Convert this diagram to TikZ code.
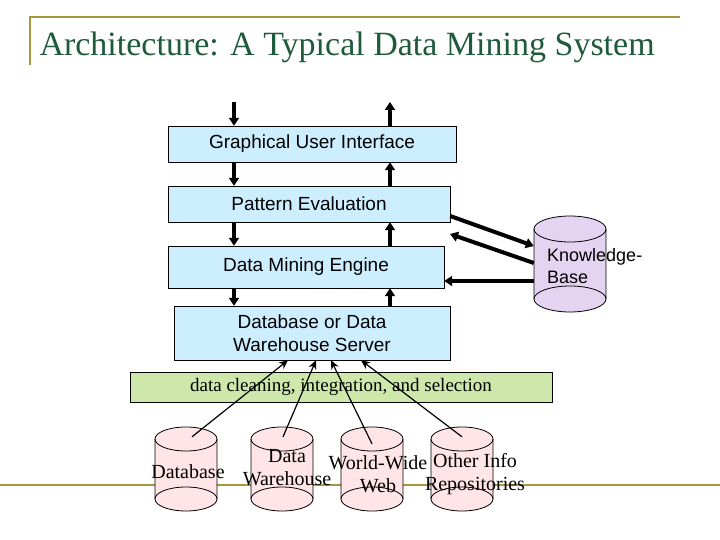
\documentclass[tikz,border=0pt]{standalone}
\usepackage{fontspec}
\setmainfont{Liberation Serif}
\newfontfamily\arialf{Liberation Sans}
\usetikzlibrary{arrows.meta}
\definecolor{boxblue}{RGB}{204,238,255}
\definecolor{bandgreen}{RGB}{206,232,172}
\definecolor{cylpink}{RGB}{255,228,232}
\definecolor{kbpurple}{RGB}{228,212,242}
\definecolor{olive}{RGB}{170,150,60}
\definecolor{titlegreen}{RGB}{30,90,60}
% drum: centre x, centre y, half width, half height, ellipse radius y, fill
\newcommand{\drum}[6]{%
  \filldraw[fill=#6, draw=black, line width=0.8pt]
    (#1-#3,#2+#4-#5) -- (#1-#3,#2-#4+#5)
    arc[start angle=180, end angle=360, x radius=#3, y radius=#5]
    -- (#1+#3,#2+#4-#5)
    arc[start angle=0, end angle=180, x radius=#3, y radius=#5];
  \draw[black, line width=0.8pt] (#1-#3,#2+#4-#5)
    arc[start angle=180, end angle=360, x radius=#3, y radius=#5];
  \draw[black, line width=0.8pt] (#1-#3,#2-#4+#5)
    arc[start angle=180, end angle=0, x radius=#3, y radius=#5];
}
\tikzset{
  layer/.style={draw=black, fill=boxblue, font=\arialf\fontsize{19}{23}\selectfont, align=center, inner sep=0pt},
  lbl/.style={font=\fontsize{20}{23}\selectfont, align=center, inner sep=0pt},
  flow/.style={line width=4pt, -{Triangle[length=8pt,width=10pt]}},
  srcarrow/.style={line width=1.2pt, -{Stealth[length=9pt,width=8pt]}}
}
\begin{document}
\begin{tikzpicture}[x=1pt,y=1pt]
\useasboundingbox (0,0) rectangle (720,-540);
% slide frame
\draw[olive, line width=1.5pt] (30,-65) -- (30,-17) -- (680,-17);
\draw[olive, line width=1.5pt] (0,-485) -- (720,-485);
\node[anchor=west, text=titlegreen, font=\fontsize{34}{40}\selectfont] (title) at (36,-47) {Architecture: A Typical Data Mining System};

% layers
\node[layer, minimum width=288pt, minimum height=36pt] (gui) at (312,-144) {Graphical User Interface};
\node[layer, minimum width=282pt, minimum height=36pt] (pe) at (309,-204) {Pattern Evaluation};
\node[layer, minimum width=276pt, minimum height=42pt] (dme) at (306,-267) {Data Mining Engine};
\node[layer, minimum width=276pt, minimum height=54pt] (dbs) at (312,-333) {Database or Data\\Warehouse Server};
\node[draw=black, fill=bandgreen, minimum width=422pt, minimum height=30pt, inner sep=0pt, lbl, font=\fontsize{19}{22}\selectfont] (band) at (341,-387) {data cleaning, integration, and selection};

% knowledge base
\drum{570}{-264}{36}{48}{13}{kbpurple}
\node[minimum width=72pt, minimum height=96pt, inner sep=0pt] (kb) at (570,-264) {};
\node[anchor=north west, align=left, inner sep=0pt, font=\arialf\fontsize{18}{22}\selectfont] (kbt) at (547,-248) {Knowledge-\\Base};

% sources
\drum{186}{-469}{31}{42}{12}{cylpink}
\drum{282}{-469}{31}{42}{12}{cylpink}
\drum{372}{-469}{31}{42}{12}{cylpink}
\drum{462}{-469}{31}{42}{12}{cylpink}
\node[minimum width=62pt, minimum height=84pt, inner sep=0pt] (s1) at (186,-469) {};
\node[minimum width=62pt, minimum height=84pt, inner sep=0pt] (s2) at (282,-469) {};
\node[minimum width=62pt, minimum height=84pt, inner sep=0pt] (s3) at (372,-469) {};
\node[minimum width=62pt, minimum height=84pt, inner sep=0pt] (s4) at (462,-469) {};
\node[lbl] (l1) at (188,-472) {Database};
\node[lbl] (l2) at (287,-468) {Data\\Warehouse};
\node[lbl] (l3) at (378,-474) {World-Wide\\Web};
\node[lbl] (l4) at (475,-474) {Other Info\\Repositories};

% vertical flow
\coordinate (in) at (234,-102);
\coordinate (out) at (390,-102);
\draw[flow] (in) -- (gui.north -| in);
\draw[flow] (gui.south -| in) -- (pe.north -| in);
\draw[flow] (pe.south -| in) -- (dme.north -| in);
\draw[flow] (dme.south -| in) -- (dbs.north -| in);
\draw[flow] (gui.north -| out) -- (out);
\draw[flow] (pe.north -| out) -- (gui.south -| out);
\draw[flow] (dme.north -| out) -- (pe.south -| out);
\draw[flow] (dbs.north -| out) -- (dme.south -| out);

% knowledge base links
\draw[flow] (pe.east |- 0,-216) -- (kb.west |- 0,-246);
\draw[flow] (kb.west |- 0,-263) -- (450,-234);
\draw[flow] (kb.west |- 0,-281) -- (dme.east |- 0,-281);

% sources to server
\draw[srcarrow] (s1.north -| 192,0) ++(0,-10) -- (dbs.south -| 288,0);
\draw[srcarrow] (s2.north -| 283,0) ++(0,-10) -- (dbs.south -| 316,0);
\draw[srcarrow] (s3.north -| 372,0) ++(0,-17) -- (dbs.south -| 331,0);
\draw[srcarrow] (s4.north -| 462,0) ++(0,-10) -- (dbs.south -| 361,0);
\end{tikzpicture}
\end{document}
